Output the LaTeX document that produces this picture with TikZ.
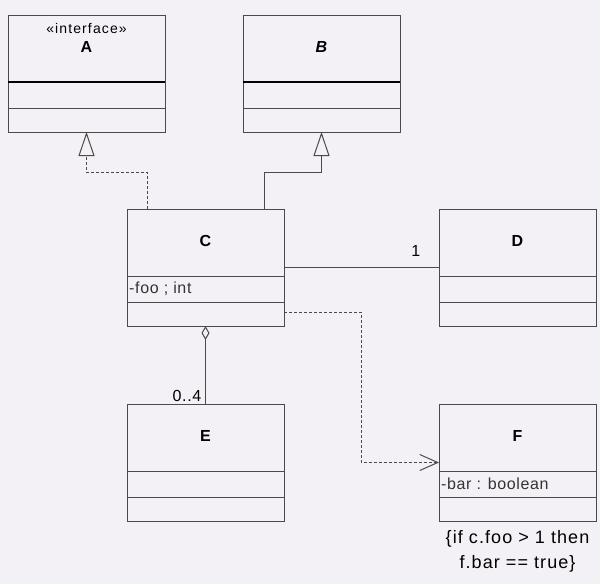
\documentclass[tikz,border=0pt]{standalone}
\usepackage{fontspec}
\setmainfont{Liberation Sans}[LetterSpace = 4]
\usetikzlibrary{arrows.meta, calc}

\definecolor{paper}{HTML}{F4F1F6}
\definecolor{ink}{HTML}{4A4A4A}

% One class box: name, left, top, title
\newcommand{\umlclass}[4]{%
	\node [classbox] (#1) at (#2, #3) {};
	\draw [umlline] ($(#1.north west) + (0, 93)$) -- ($(#1.north east) + (0, 93)$);
	\node [classname] (#1-name) at ($(#1.north) + (0, 32)$) {#4};
}

\begin{document}
\begin{tikzpicture}[x = 1pt, y = -1pt, font = \fontsize{16}{19}\selectfont]

	\tikzset{
		umlline/.style = {draw = ink, line width = 1pt},
		classbox/.style = {umlline, rectangle, anchor = north west, inner sep = 0pt, outer sep = 0pt,
			minimum width = 157pt, minimum height = 117pt},
		classname/.style = {font = \fontsize{16}{19}\selectfont\bfseries},
		attr/.style = {anchor = west, inner sep = 2pt, text = black!80},
		realize/.style = {umlline, dash pattern = on 3pt off 2pt, -{Triangle[open, length = 24pt, width = 16pt]}},
		generalize/.style = {umlline, -{Triangle[open, length = 24pt, width = 16pt]}},
		aggregate/.style = {umlline, -{Diamond[open, length = 14pt, width = 8pt]}},
		depend/.style = {umlline, dash pattern = on 3pt off 2pt, -{Straight Barb[length = 18pt, width = 16pt]}}
	}

	% Background

	\fill [paper] (0, 0) rectangle (600, 584);
	\useasboundingbox (0, 0) rectangle (600, 584);

	% Classes

	\umlclass{A}{8}{15}{A}
	\umlclass{B}{243}{15}{\itshape B}
	\umlclass{C}{127}{209}{C}
	\umlclass{D}{439}{209}{D}
	\umlclass{E}{127}{404}{E}
	\umlclass{F}{439}{404}{F}

	% First separators (interface and abstract class drawn heavier)

	\draw [umlline, line width = 1.6pt, draw = black] ($(A.north west) + (0, 67)$) -- ($(A.north east) + (0, 67)$);
	\draw [umlline, line width = 1.6pt, draw = black] ($(B.north west) + (0, 67)$) -- ($(B.north east) + (0, 67)$);
	\foreach \c in {C, D, E, F}
		\draw [umlline] ($(\c.north west) + (0, 67)$) -- ($(\c.north east) + (0, 67)$);

	% Stereotype and attributes

	\node [font = \fontsize{14}{17}\selectfont\addfontfeatures{LetterSpace = 8}] (A-stereo) at ($(A.north) + (0, 13)$) {«interface»};
	\node [attr] (C-attr) at ($(C.north west) + (0, 80)$) {-foo ; int};
	\node [attr] (F-attr) at ($(F.north west) + (0, 80)$) {-bar : boolean};

	% Realization and generalization

	\coordinate (C-top-left) at ($(C.north west) + (20, 0)$);
	\coordinate (C-top-right) at ($(C.north east) + (-20, 0)$);
	\draw [realize] (C-top-left) -- ++(0, -37) -| (A.south);
	\draw [generalize] (C-top-right) -- ++(0, -37) -| (B.south);

	% Association with D

	\draw [umlline] (C.east) -- (C.east -| D.west) node [pos = 0.85, above = 7pt] (D-mult) {1};

	% Aggregation of E

	\draw [aggregate] (E.north) -- (C.south);
	\node [anchor = south east, inner sep = 1pt] (E-mult) at ($(E.north) + (-3, -1)$) {0..4};

	% Dependency on F

	\coordinate (C-dep) at ($(C.north east) + (0, 103)$);
	\coordinate (F-bend) at ($(F.west) + (-78, 0)$);
	\draw [depend] (C-dep) -| (F-bend) -- (F.west);

	% Constraint

	\node [anchor = north, align = center, font = \fontsize{18}{25}\selectfont\addfontfeatures{LetterSpace = 6}] (F-note) at ($(F.south) + (0, 6)$)
		{\{if c.foo > 1 then\\f.bar == true\}};

\end{tikzpicture}
\end{document}
